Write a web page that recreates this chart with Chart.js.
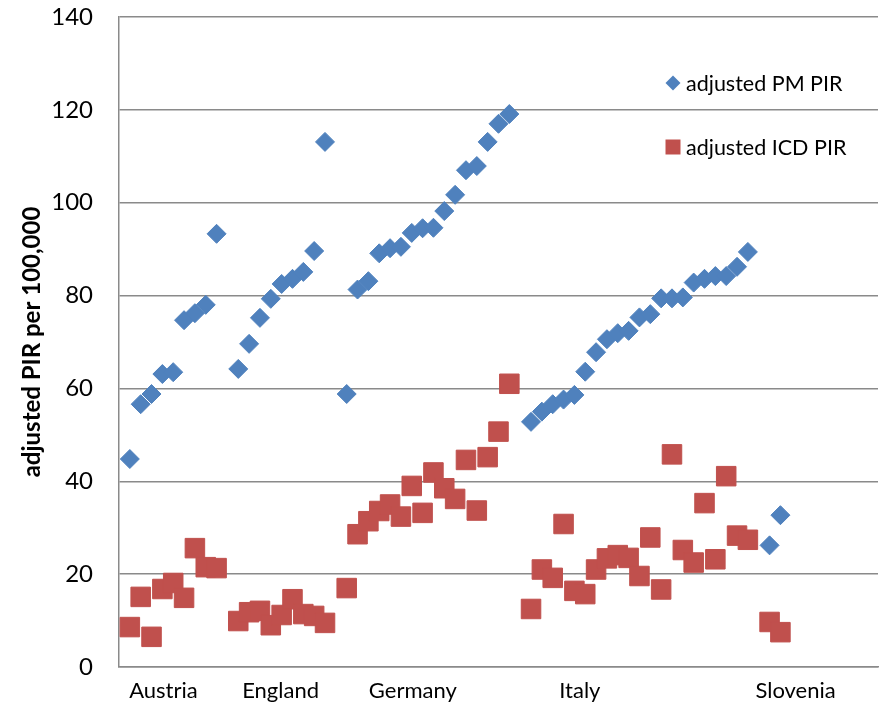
<!DOCTYPE html>
<html><head><meta charset="utf-8">
<script src="https://cdn.jsdelivr.net/npm/chart.js@4.4.1/dist/chart.umd.min.js"></script>
<style>html,body{margin:0;padding:0;background:#fff}canvas{display:block}</style>
</head><body>
<canvas id="c" width="879" height="705"></canvas>
<script>
// ---- data ----
const countries = ['Austria', 'England', 'Germany', 'Italy', 'Slovenia'];
const countryTickAt = [3.1, 13.9, 26.1, 41.5, 61.4];
const seriesNames = ['adjusted PM PIR', 'adjusted ICD PIR'];
const yTicks = [0, 20, 40, 60, 80, 100, 120, 140];

const pmAustria  = [44.8, 56.6, 58.8, 63.1, 63.5, 74.7, 76.2, 78.0, 93.3];
const pmEngland  = [64.2, 69.6, 75.2, 79.3, 82.5, 83.6, 85.1, 89.6, 113.1];
const pmGermany  = [58.8, 81.3, 83.1, 89.1, 90.2, 90.5, 93.5, 94.5, 94.6, 98.2, 101.7, 107.0, 107.9, 113.1, 117.0, 119.1];
const pmItaly    = [52.8, 55.0, 56.6, 57.6, 58.6, 63.6, 67.8, 70.6, 71.9, 72.4, 75.3, 76.0, 79.4, 79.4, 79.6, 82.8, 83.6, 84.2, 84.2, 86.2, 89.4];
const pmSlovenia = [26.2, 32.7];

const icdAustria  = [8.6, 15.1, 6.5, 16.8, 18.1, 14.9, 25.6, 21.5, 21.3];
const icdEngland  = [9.9, 11.8, 12.1, 9.0, 11.2, 14.6, 11.4, 11.0, 9.5];
const icdGermany  = [17.0, 28.6, 31.4, 33.6, 35.0, 32.4, 39.0, 33.2, 41.9, 38.5, 36.2, 44.6, 33.7, 45.2, 50.7, 61.0];
const icdItaly    = [12.5, 21.0, 19.2, 30.8, 16.4, 15.7, 21.0, 23.4, 24.1, 23.5, 19.6, 27.9, 16.7, 45.8, 25.2, 22.5, 35.3, 23.2, 41.1, 28.3, 27.4];
const icdSlovenia = [9.7, 7.5];

const pmGroups  = [pmAustria, pmEngland, pmGermany, pmItaly, pmSlovenia];
const icdGroups = [icdAustria, icdEngland, icdGermany, icdItaly, icdSlovenia];

// consecutive sample index, one empty slot between countries
function toPoints(groups) {
  const pts = [];
  let idx = 0;
  groups.forEach(g => {
    g.forEach(v => { pts.push({x: idx, y: v}); idx++; });
    idx++;
  });
  return pts;
}

const BLUE = '#4F81BD', RED = '#C0504D', GRID = '#8A8A8A';
const FONT = 'Lato, "Open Sans", sans-serif';

const legendPlugin = {
  id: 'inlineLegend',
  afterDraw(chart) {
    const ctx = chart.ctx;
    const items = chart.data.datasets;
    const x0 = 673, ys = [83, 147];
    ctx.save();
    items.forEach((ds, i) => {
      const y = ys[i];
      ctx.fillStyle = ds.backgroundColor;
      ctx.beginPath();
      if (ds.pointStyle === 'rectRot') {
        const r = 7.5;
        ctx.moveTo(x0 - r, y); ctx.lineTo(x0, y - r); ctx.lineTo(x0 + r, y); ctx.lineTo(x0, y + r);
        ctx.closePath();
      } else {
        ctx.rect(x0 - 7.5, y - 7.5, 15, 15);
      }
      ctx.fill();
      ctx.fillStyle = '#000';
      ctx.font = '21.5px ' + FONT;
      ctx.textBaseline = 'middle';
      ctx.textAlign = 'left';
      ctx.fillText(ds.label, 686, y + 1);
    });
    ctx.restore();
  }
};

function noPad(s) { s.paddingTop = 0; s.paddingBottom = 0; s.paddingLeft = 0; s.paddingRight = 0; }

new Chart(document.getElementById('c'), {
  type: 'scatter',
  data: {
    datasets: [
      { label: seriesNames[0], data: toPoints(pmGroups), pointStyle: 'rectRot',
        pointRadius: 9.5, pointHoverRadius: 9.5, backgroundColor: BLUE, borderColor: BLUE, borderWidth: 1 },
      { label: seriesNames[1], data: toPoints(icdGroups), pointStyle: 'rect',
        pointRadius: 13.8, pointHoverRadius: 13.8, backgroundColor: RED, borderColor: RED, borderWidth: 1 }
    ]
  },
  options: {
    responsive: false,
    devicePixelRatio: 1,
    animation: false,
    events: [],
    layout: { autoPadding: false, padding: { top: 17, right: 1, left: 0, bottom: 0 } },
    plugins: { legend: { display: false }, tooltip: { enabled: false } },
    scales: {
      x: {
        type: 'linear', min: -1, max: 69,
        grid: { display: false, drawTicks: false },
        border: { display: true, color: GRID, width: 1.5 },
        afterBuildTicks: s => { s.ticks = countryTickAt.map(v => ({ value: v })); },
        afterFit: s => { s.height = 38; noPad(s); },
        ticks: {
          autoSkip: false, maxRotation: 0, padding: 11, color: '#000',
          font: { family: FONT, size: 22 },
          callback: v => { const i = countryTickAt.indexOf(v); return i >= 0 ? countries[i] : ''; }
        }
      },
      y: {
        min: 0, max: 140,
        afterBuildTicks: s => { s.ticks = yTicks.map(v => ({ value: v })); },
        afterFit: s => { s.width = 119; noPad(s); },
        grid: { color: GRID, lineWidth: 1.5, drawTicks: false },
        border: { display: true, color: GRID, width: 1.5 },
        ticks: { padding: 26, color: '#000', font: { family: FONT, size: 24 } },
        title: {
          display: true, text: 'adjusted PIR per 100,000', color: '#000',
          font: { family: FONT, size: 24, weight: 'bold' },
          padding: { top: 18, bottom: 0 }
        }
      }
    }
  },
  plugins: [legendPlugin]
});
</script>
</body></html>
